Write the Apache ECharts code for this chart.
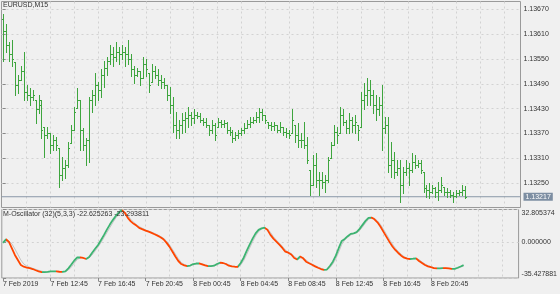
<!DOCTYPE html>
<html><head><meta charset="utf-8">
<script src="https://cdn.jsdelivr.net/npm/echarts@6/dist/echarts.min.js"></script>
<style>html,body{margin:0;padding:0;background:#f0f0f0}#c{width:560px;height:294px}</style>
</head><body><div id="c"></div>
<script>
const symbolTitle = 'EURUSD,M15';
const oscTitle = 'M-Oscillator (32)(5,3,3) -22.625263 -23.293811';

const opens = [1.13646,1.13617,1.13585,1.13561,1.13542,1.13488,1.13500,1.13520,1.13471,1.13464,
1.13457,1.13452,1.13428,1.13452,1.13386,1.13367,1.13372,1.13343,1.13355,1.13335,
1.13270,1.13287,1.13294,1.13348,1.13379,1.13432,1.13452,1.13379,1.13343,1.13355,
1.13452,1.13464,1.13488,1.13476,1.13512,1.13529,1.13544,1.13561,1.13554,1.13568,
1.13561,1.13568,1.13561,1.13549,1.13525,1.13512,1.13520,1.13505,1.13537,1.13517,
1.13495,1.13520,1.13512,1.13500,1.13495,1.13488,1.13464,1.13440,1.13391,1.13379,
1.13391,1.13403,1.13408,1.13415,1.13408,1.13415,1.13413,1.13403,1.13398,1.13391,
1.13379,1.13391,1.13386,1.13398,1.13394,1.13396,1.13379,1.13374,1.13360,1.13367,
1.13372,1.13379,1.13384,1.13394,1.13398,1.13403,1.13410,1.13423,1.13415,1.13398,
1.13391,1.13389,1.13391,1.13379,1.13386,1.13374,1.13372,1.13372,1.13391,1.13367,
1.13355,1.13355,1.13343,1.13282,1.13246,1.13294,1.13258,1.13258,1.13253,1.13258,
1.13311,1.13343,1.13374,1.13372,1.13415,1.13398,1.13384,1.13403,1.13391,1.13391,
1.13386,1.13452,1.13464,1.13476,1.13464,1.13440,1.13428,1.13440,1.13384,1.13391,
1.13294,1.13306,1.13277,1.13287,1.13246,1.13277,1.13287,1.13282,1.13302,1.13294,
1.13299,1.13277,1.13239,1.13234,1.13229,1.13239,1.13229,1.13234,1.13241,1.13229,
1.13229,1.13222,1.13219,1.13227,1.13229,1.13234];
const highs = [1.13658,1.13634,1.13592,1.13597,1.13542,1.13512,1.13532,1.13568,1.13488,1.13481,
1.13476,1.13452,1.13464,1.13452,1.13386,1.13386,1.13372,1.13367,1.13362,1.13335,
1.13314,1.13306,1.13350,1.13391,1.13435,1.13481,1.13452,1.13384,1.13360,1.13459,
1.13476,1.13517,1.13495,1.13525,1.13544,1.13556,1.13585,1.13578,1.13590,1.13580,
1.13585,1.13578,1.13597,1.13561,1.13532,1.13529,1.13520,1.13554,1.13549,1.13517,
1.13537,1.13532,1.13525,1.13512,1.13505,1.13488,1.13483,1.13457,1.13423,1.13403,
1.13420,1.13423,1.13435,1.13423,1.13428,1.13423,1.13420,1.13408,1.13408,1.13391,
1.13403,1.13396,1.13408,1.13403,1.13403,1.13398,1.13386,1.13379,1.13374,1.13379,
1.13384,1.13396,1.13403,1.13410,1.13410,1.13423,1.13432,1.13428,1.13415,1.13398,
1.13398,1.13398,1.13391,1.13398,1.13386,1.13384,1.13379,1.13428,1.13391,1.13396,
1.13372,1.13398,1.13362,1.13282,1.13318,1.13323,1.13277,1.13277,1.13270,1.13314,
1.13350,1.13391,1.13386,1.13435,1.13428,1.13403,1.13420,1.13410,1.13415,1.13391,
1.13471,1.13493,1.13505,1.13500,1.13476,1.13464,1.13457,1.13486,1.13410,1.13410,
1.13350,1.13326,1.13306,1.13306,1.13289,1.13306,1.13299,1.13323,1.13318,1.13306,
1.13306,1.13277,1.13246,1.13251,1.13246,1.13241,1.13253,1.13265,1.13241,1.13239,
1.13234,1.13229,1.13234,1.13234,1.13246,1.13244];
const lows = [1.13544,1.13566,1.13544,1.13532,1.13464,1.13469,1.13500,1.13452,1.13452,1.13440,
1.13452,1.13396,1.13420,1.13360,1.13314,1.13360,1.13323,1.13331,1.13331,1.13241,
1.13258,1.13263,1.13289,1.13348,1.13379,1.13432,1.13331,1.13331,1.13294,1.13302,
1.13423,1.13440,1.13452,1.13459,1.13483,1.13512,1.13537,1.13532,1.13544,1.13537,
1.13549,1.13532,1.13537,1.13508,1.13493,1.13508,1.13488,1.13505,1.13508,1.13471,
1.13495,1.13505,1.13488,1.13481,1.13481,1.13452,1.13420,1.13374,1.13360,1.13360,
1.13372,1.13374,1.13386,1.13391,1.13396,1.13408,1.13398,1.13391,1.13386,1.13367,
1.13372,1.13355,1.13386,1.13386,1.13386,1.13372,1.13367,1.13350,1.13355,1.13360,
1.13367,1.13372,1.13384,1.13386,1.13396,1.13398,1.13398,1.13403,1.13396,1.13384,
1.13379,1.13379,1.13374,1.13374,1.13367,1.13362,1.13360,1.13372,1.13350,1.13338,
1.13338,1.13335,1.13299,1.13222,1.13246,1.13241,1.13222,1.13239,1.13229,1.13253,
1.13311,1.13343,1.13348,1.13372,1.13391,1.13372,1.13372,1.13374,1.13372,1.13355,
1.13386,1.13428,1.13440,1.13440,1.13420,1.13403,1.13415,1.13331,1.13372,1.13277,
1.13265,1.13263,1.13270,1.13205,1.13227,1.13270,1.13246,1.13277,1.13287,1.13289,
1.13275,1.13229,1.13217,1.13214,1.13227,1.13217,1.13209,1.13229,1.13222,1.13217,
1.13217,1.13205,1.13217,1.13222,1.13222,1.13214];
const closes = [1.13617,1.13585,1.13561,1.13549,1.13488,1.13500,1.13520,1.13471,1.13464,1.13457,
1.13464,1.13428,1.13440,1.13379,1.13367,1.13372,1.13343,1.13355,1.13343,1.13270,
1.13287,1.13294,1.13335,1.13379,1.13423,1.13452,1.13379,1.13343,1.13355,1.13452,
1.13464,1.13488,1.13476,1.13512,1.13529,1.13544,1.13561,1.13554,1.13568,1.13561,
1.13568,1.13561,1.13549,1.13525,1.13512,1.13520,1.13505,1.13537,1.13525,1.13488,
1.13520,1.13512,1.13500,1.13495,1.13488,1.13464,1.13440,1.13391,1.13379,1.13391,
1.13403,1.13408,1.13415,1.13408,1.13415,1.13413,1.13403,1.13398,1.13391,1.13379,
1.13391,1.13367,1.13398,1.13394,1.13396,1.13379,1.13374,1.13360,1.13367,1.13372,
1.13379,1.13384,1.13394,1.13398,1.13403,1.13410,1.13423,1.13415,1.13403,1.13391,
1.13389,1.13391,1.13379,1.13386,1.13374,1.13372,1.13367,1.13403,1.13367,1.13355,
1.13355,1.13343,1.13306,1.13246,1.13294,1.13258,1.13258,1.13253,1.13258,1.13306,
1.13343,1.13374,1.13367,1.13415,1.13398,1.13384,1.13403,1.13391,1.13398,1.13379,
1.13452,1.13464,1.13476,1.13464,1.13440,1.13428,1.13440,1.13384,1.13391,1.13294,
1.13306,1.13277,1.13287,1.13246,1.13277,1.13287,1.13282,1.13302,1.13294,1.13299,
1.13282,1.13239,1.13234,1.13229,1.13239,1.13229,1.13234,1.13246,1.13229,1.13229,
1.13222,1.13219,1.13227,1.13229,1.13234,1.13217];

const oscMain = [-0.5,3.2,0.5,-6,-12.5,-17.5,-22.5,-24.2,-25,-25.7,
-26.5,-27.7,-28.8,-29.5,-29.5,-29.3,-28.8,-28.8,-28.8,-29.2,
-29.3,-28.8,-25.8,-22,-18,-15,-14.8,-15.5,-16.5,-14.5,
-10.3,-6.3,-2.5,2.5,7.5,13,18,22.5,26.5,30,
32,29.5,24.5,21,18.5,16.5,14.2,13,11.8,10.7,
9.5,8.2,6.8,5.2,3.2,-0.2,-4.2,-9,-14,-18.5,
-21.5,-22.8,-23.5,-23,-21.5,-21,-20.8,-21.8,-22.8,-23.5,
-23.5,-23.2,-21.5,-20.2,-20.5,-21.5,-23.2,-23.8,-24.2,-24.3,
-20.5,-15.2,-8.5,-2.2,3.8,9,12.5,14,14.7,12.5,
7.5,3.8,0.8,-2.2,-5.5,-9.2,-10.2,-12,-15.5,-17,
-14,-15.8,-19.2,-20.8,-22.3,-23.8,-25.2,-26.5,-27.3,-27,
-23.5,-19.2,-13.2,-5.5,1.5,3.5,6.2,8.5,9,10.2,
13.5,17.5,21.5,24.5,24.8,23,20,15.8,10.8,5.8,
0.8,-3.8,-7.5,-10.5,-13.2,-15.2,-16.2,-16.5,-16.2,-15.8,
-18.5,-20.5,-22.5,-23.8,-24.7,-25.5,-25.8,-25.8,-25.5,-25.6,
-25.8,-26.3,-26.3,-25.2,-24,-22.625263];
const oscSignal = [0,1,1.5,-1.5,-6.5,-12,-17.5,-21.5,-23.5,-24.8,
-25.8,-26.8,-27.8,-28.7,-29.2,-29.4,-29.1,-28.9,-28.8,-29,
-29.1,-29,-27.5,-24.5,-20.5,-17,-15.2,-15.2,-16,-15.3,
-12.5,-8.5,-4.5,0,5,10,15,20,24.5,28,
30.5,30.5,27,23,20,17.5,15.5,14,12.5,11.3,
10.2,9,7.5,6,4.2,1.5,-2.2,-6.8,-11.5,-16.2,
-20,-22,-23,-23.2,-22.3,-21.3,-21,-21.3,-22.3,-23.1,
-23.5,-23.4,-22.4,-21,-20.4,-21,-22.3,-23.5,-24,-24.3,
-22.4,-18,-12,-5.5,0.8,6.5,10.8,13.3,14.4,13.6,
10,5.7,2.3,-0.7,-3.8,-7.4,-9.7,-11.1,-13.8,-16.2,
-15.6,-15,-17.5,-20,-21.6,-23,-24.5,-25.8,-26.9,-27.1,
-25.2,-21.4,-16.2,-9.4,-2,2.5,5,7.4,8.8,9.6,
11.8,15.5,19.5,23,24.7,24,21.5,18,13.3,8.3,
3.3,-1.5,-5.6,-9,-11.8,-14.2,-15.7,-16.3,-16.4,-16,
-17.1,-19.5,-21.5,-23.1,-24.2,-25.1,-25.6,-25.8,-25.7,-25.6,
-25.7,-26,-26.3,-25.8,-24.6,-23.293811];

const priceTicks = [1.13250,1.13310,1.13370,1.13430,1.13490,1.13550,1.13610,1.13670];
const oscTicks = [-35.427881, 0, 32.805374];
const timeTickIndex = [0,16,32,48,64,80,96,112,128,144];
const timeTickLabels = ['7 Feb 2019','7 Feb 12:45','7 Feb 16:45','7 Feb 20:45','8 Feb 00:45','8 Feb 04:45','8 Feb 08:45','8 Feb 12:45','8 Feb 16:45','8 Feb 20:45'];
const gridLineIndex = [8,16,24,32,40,48,56,64,72,80,88,96,104,112,120,128,136,144,152,160,168];

const FONT = 'Liberation Sans';
const TXT = '#333';
const BAR_COLOR = '#3ea53e';
const UP_COLOR = '#3cb371';
const DOWN_COLOR = '#ff4500';

const XMIN = -0.4, XMAX = 173.5;
const ohlcData = opens.map((o, i) => [i, o, closes[i], lows[i], highs[i]]);
const mainData = oscMain.map((v, i) => [i, v]);
const sigData = oscSignal.map((v, i) => [i, v]);
const lastClose = closes[closes.length - 1];
const priceLineData = [[XMIN, lastClose], [XMAX, lastClose]];

// colour pieces by slope of the main oscillator line
function slopePieces(vals) {
  const turns = [];
  let up = vals[1] >= vals[0];
  const dirs = [up];
  for (let i = 2; i < vals.length; i++) {
    const u = vals[i] >= vals[i - 1];
    if (u !== up) { turns.push(i - 1); dirs.push(u); up = u; }
  }
  const pieces = [];
  for (let k = 0; k < dirs.length; k++) {
    const p = { color: dirs[k] ? UP_COLOR : DOWN_COLOR };
    if (k > 0) p.gt = turns[k - 1];
    if (k < turns.length) p.lte = turns[k];
    pieces.push(p);
  }
  return pieces;
}

function renderOHLC(params, api) {
  const i = api.value(0);
  const pO = api.coord([i, api.value(1)]);
  const pC = api.coord([i, api.value(2)]);
  const pL = api.coord([i, api.value(3)]);
  const pH = api.coord([i, api.value(4)]);
  const x = Math.round(pO[0]) + 0.5;
  const st = { stroke: BAR_COLOR, lineWidth: 1 };
  const yo = Math.round(pO[1]) + 0.5, yc = Math.round(pC[1]) + 0.5;
  return { type: 'group', children: [
    { type: 'line', shape: { x1: x, y1: Math.round(pH[1]), x2: x, y2: Math.round(pL[1]) + 1 }, style: st },
    { type: 'line', shape: { x1: x - 1.5, y1: yo, x2: x, y2: yo }, style: st },
    { type: 'line', shape: { x1: x, y1: yc, x2: x + 1.5, y2: yc }, style: st }
  ]};
}

const dashed = { color: '#d2d2d2', type: [2, 3], width: 1 };
const lbl = { fontFamily: FONT, fontSize: 7, color: TXT };

const chart = echarts.init(document.getElementById('c'), null, { renderer: 'canvas' });
chart.setOption({
  animation: false,
  backgroundColor: '#f0f0f0',
  title: [
    { text: symbolTitle, left: 3, top: 2, padding: 0, textStyle: { fontFamily: FONT, fontSize: 7, fontWeight: 'normal', color: TXT } },
    { text: oscTitle, left: 3, top: 211, padding: 0, textStyle: { fontFamily: FONT, fontSize: 7, fontWeight: 'normal', color: TXT } }
  ],
  grid: [
    { left: 1.5, top: 1.5, width: 519, height: 206, show: true, borderColor: '#9a9a9a', borderWidth: 1, backgroundColor: 'transparent' },
    { left: 1.5, top: 209.5, width: 519, height: 68.5, show: true, borderColor: '#9a9a9a', borderWidth: 1, backgroundColor: 'transparent' }
  ],
  xAxis: [
    { type: 'value', gridIndex: 0, min: XMIN, max: XMAX, axisLine: { show: false },
      axisTick: { show: false, customValues: gridLineIndex }, axisLabel: { show: false },
      splitLine: { show: true, lineStyle: dashed } },
    { type: 'value', gridIndex: 1, min: XMIN, max: XMAX, axisLine: { show: false },
      axisTick: { show: false, customValues: gridLineIndex }, axisLabel: { show: false },
      splitLine: { show: true, lineStyle: dashed } },
    { type: 'value', gridIndex: 1, min: XMIN, max: XMAX, position: 'bottom', axisLine: { show: false },
      axisTick: { show: true, length: 3, customValues: timeTickIndex, lineStyle: { color: '#888' } },
      axisLabel: Object.assign({ customValues: timeTickIndex, align: 'left', margin: 3, hideOverlap: false,
        formatter: v => timeTickLabels[timeTickIndex.indexOf(v)] || '' }, lbl),
      splitLine: { show: false } }
  ],
  yAxis: [
    { type: 'value', gridIndex: 0, position: 'right', min: 1.13191, max: 1.13689, scale: true,
      axisLine: { show: false },
      axisTick: { show: true, length: 3, customValues: priceTicks, lineStyle: { color: '#888' } },
      axisLabel: Object.assign({ customValues: priceTicks, margin: 3, formatter: v => v.toFixed(5) }, lbl),
      splitLine: { show: true, lineStyle: dashed } },
    { type: 'value', gridIndex: 1, position: 'right', min: oscTicks[0], max: oscTicks[2],
      axisLine: { show: false },
      axisTick: { show: true, length: 3, customValues: oscTicks, lineStyle: { color: '#888' } },
      axisLabel: Object.assign({ customValues: oscTicks, margin: 3, formatter: v => v.toFixed(6),
        verticalAlignMinLabel: 'bottom', verticalAlignMaxLabel: 'top' }, lbl),
      splitLine: { show: true, lineStyle: dashed } }
  ],
  visualMap: [{
    show: false, type: 'piecewise', seriesIndex: 3, dimension: 0,
    pieces: slopePieces(oscMain)
  }],
  series: [
    { type: 'custom', xAxisIndex: 0, yAxisIndex: 0, renderItem: renderOHLC, data: ohlcData,
      encode: { x: 0, y: [1, 2, 3, 4] }, clip: true, z: 3 },
    { type: 'line', xAxisIndex: 0, yAxisIndex: 0, data: priceLineData, symbol: 'none', silent: true, z: 2,
      clip: false, lineStyle: { color: '#8a98a8', width: 1 },
      endLabel: { show: true, distance: 3, formatter: () => lastClose.toFixed(5),
        backgroundColor: '#7d8ea2', color: '#fff', padding: [1, 2, 0, 2], fontFamily: FONT, fontSize: 7 } },
    { type: 'line', xAxisIndex: 2, yAxisIndex: 1, data: sigData, symbol: 'none', z: 2,
      lineStyle: { color: '#c4c4c4', width: 1 } },
    { type: 'line', xAxisIndex: 2, yAxisIndex: 1, data: mainData, symbol: 'none', z: 3,
      lineStyle: { width: 1.8 } }
  ]
});
</script></body></html>
